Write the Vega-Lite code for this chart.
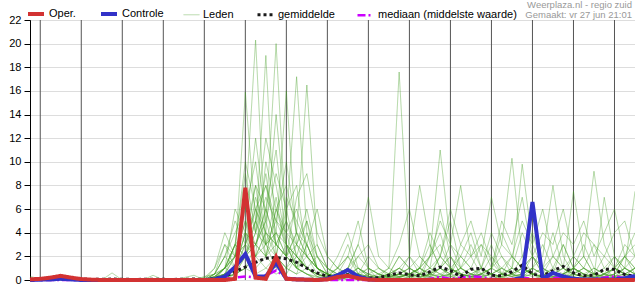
{
"$schema":"https://vega.github.io/schema/vega-lite/v6.json",
"width":605,"height":260,"autosize":"none",
"padding":{"left":30,"top":20,"right":0,"bottom":20},
"background":"white",
"config":{"font":"Liberation Sans","view":{"stroke":"#000","strokeWidth":1},
"axis":{"labelFont":"Liberation Sans","labelFontSize":11,"labelColor":"#000","domainColor":"#000","tickColor":"#000","gridColor":"#dddddd","gridWidth":1,"title":null},
"legend":{"orient":"none","legendX":-4,"legendY":-16,"direction":"horizontal","symbolSize":256,"labelFontSize":11,"labelFont":"Liberation Sans","labelColor":"#000","labelOffset":3,"columnPadding":17,"padding":0,"symbolType":"stroke","labelLimit":300}},
"title":{"text":"Weerplaza.nl - regio zuid","subtitle":"Gemaakt: vr 27 jun 21:01","anchor":"end","frame":"group","fontSize":9.5,"subtitleFontSize":9.5,"fontWeight":"normal","color":"#999999","subtitleColor":"#999999","font":"Liberation Sans","subtitleFont":"Liberation Sans","offset":2,"subtitlePadding":0,"dx":-3,"dy":17},
"datasets":{
"days":[{"t":6},{"t":30},{"t":54},{"t":78},{"t":102},{"t":126},{"t":150},{"t":174},{"t":198},{"t":222},{"t":246},{"t":270},{"t":294},{"t":318},{"t":342}],
"d":[
{"s":"Leden","m":1,"t":96,"v":0},{"s":"Leden","m":1,"t":102,"v":0},{"s":"Leden","m":1,"t":108,"v":0.5},{"s":"Leden","m":1,"t":114,"v":2},{"s":"Leden","m":1,"t":120,"v":4},{"s":"Leden","m":1,"t":126,"v":6},{"s":"Leden","m":1,"t":132,"v":20.3},{"s":"Leden","m":1,"t":138,"v":3},{"s":"Leden","m":1,"t":144,"v":1},{"s":"Leden","m":1,"t":150,"v":0.5},{"s":"Leden","m":1,"t":156,"v":2},{"s":"Leden","m":1,"t":162,"v":1},{"s":"Leden","m":1,"t":168,"v":0.3},{"s":"Leden","m":1,"t":174,"v":0},{"s":"Leden","m":1,"t":180,"v":0.5},{"s":"Leden","m":1,"t":186,"v":1},{"s":"Leden","m":1,"t":192,"v":0.2},{"s":"Leden","m":1,"t":198,"v":0},{"s":"Leden","m":1,"t":204,"v":0},{"s":"Leden","m":1,"t":210,"v":0.5},{"s":"Leden","m":1,"t":216,"v":1},{"s":"Leden","m":1,"t":222,"v":0.3},{"s":"Leden","m":1,"t":228,"v":0},{"s":"Leden","m":1,"t":234,"v":0.5},{"s":"Leden","m":1,"t":240,"v":2},{"s":"Leden","m":1,"t":246,"v":1},{"s":"Leden","m":1,"t":252,"v":0.3},{"s":"Leden","m":1,"t":258,"v":0},{"s":"Leden","m":1,"t":264,"v":1},{"s":"Leden","m":1,"t":270,"v":3},{"s":"Leden","m":1,"t":276,"v":0.5},{"s":"Leden","m":1,"t":282,"v":0},{"s":"Leden","m":1,"t":288,"v":0.2},{"s":"Leden","m":1,"t":294,"v":1},{"s":"Leden","m":1,"t":300,"v":0.5},{"s":"Leden","m":1,"t":306,"v":0},{"s":"Leden","m":1,"t":312,"v":0},{"s":"Leden","m":1,"t":318,"v":1},{"s":"Leden","m":1,"t":324,"v":2},{"s":"Leden","m":1,"t":330,"v":0.5},{"s":"Leden","m":1,"t":336,"v":0},{"s":"Leden","m":1,"t":342,"v":0.3},{"s":"Leden","m":1,"t":348,"v":1},{"s":"Leden","m":1,"t":354,"v":0.5},
{"s":"Leden","m":2,"t":96,"v":0},{"s":"Leden","m":2,"t":102,"v":0.2},{"s":"Leden","m":2,"t":108,"v":1},{"s":"Leden","m":2,"t":114,"v":3},{"s":"Leden","m":2,"t":120,"v":2},{"s":"Leden","m":2,"t":126,"v":15.9},{"s":"Leden","m":2,"t":132,"v":5},{"s":"Leden","m":2,"t":138,"v":2},{"s":"Leden","m":2,"t":144,"v":1},{"s":"Leden","m":2,"t":150,"v":3},{"s":"Leden","m":2,"t":156,"v":1},{"s":"Leden","m":2,"t":162,"v":0.5},{"s":"Leden","m":2,"t":168,"v":0},{"s":"Leden","m":2,"t":174,"v":0},{"s":"Leden","m":2,"t":180,"v":0.2},{"s":"Leden","m":2,"t":186,"v":0.5},{"s":"Leden","m":2,"t":192,"v":1},{"s":"Leden","m":2,"t":198,"v":0.3},{"s":"Leden","m":2,"t":204,"v":0},{"s":"Leden","m":2,"t":210,"v":0},{"s":"Leden","m":2,"t":216,"v":0.5},{"s":"Leden","m":2,"t":222,"v":2},{"s":"Leden","m":2,"t":228,"v":1},{"s":"Leden","m":2,"t":234,"v":0.3},{"s":"Leden","m":2,"t":240,"v":0},{"s":"Leden","m":2,"t":246,"v":0.5},{"s":"Leden","m":2,"t":252,"v":3},{"s":"Leden","m":2,"t":258,"v":2},{"s":"Leden","m":2,"t":264,"v":0.5},{"s":"Leden","m":2,"t":270,"v":0},{"s":"Leden","m":2,"t":276,"v":0.3},{"s":"Leden","m":2,"t":282,"v":1},{"s":"Leden","m":2,"t":288,"v":4},{"s":"Leden","m":2,"t":294,"v":2},{"s":"Leden","m":2,"t":300,"v":0.5},{"s":"Leden","m":2,"t":306,"v":0},{"s":"Leden","m":2,"t":312,"v":0.5},{"s":"Leden","m":2,"t":318,"v":2},{"s":"Leden","m":2,"t":324,"v":1},{"s":"Leden","m":2,"t":330,"v":0.3},{"s":"Leden","m":2,"t":336,"v":0},{"s":"Leden","m":2,"t":342,"v":0.5},{"s":"Leden","m":2,"t":348,"v":2},{"s":"Leden","m":2,"t":354,"v":1},
{"s":"Leden","m":3,"t":96,"v":0},{"s":"Leden","m":3,"t":102,"v":0},{"s":"Leden","m":3,"t":108,"v":0.3},{"s":"Leden","m":3,"t":114,"v":1},{"s":"Leden","m":3,"t":120,"v":3},{"s":"Leden","m":3,"t":126,"v":2},{"s":"Leden","m":3,"t":132,"v":4},{"s":"Leden","m":3,"t":138,"v":19},{"s":"Leden","m":3,"t":144,"v":2},{"s":"Leden","m":3,"t":150,"v":1},{"s":"Leden","m":3,"t":156,"v":0.5},{"s":"Leden","m":3,"t":162,"v":3},{"s":"Leden","m":3,"t":168,"v":1},{"s":"Leden","m":3,"t":174,"v":0.2},{"s":"Leden","m":3,"t":180,"v":0},{"s":"Leden","m":3,"t":186,"v":0.3},{"s":"Leden","m":3,"t":192,"v":0.5},{"s":"Leden","m":3,"t":198,"v":0},{"s":"Leden","m":3,"t":204,"v":0},{"s":"Leden","m":3,"t":210,"v":0.3},{"s":"Leden","m":3,"t":216,"v":1},{"s":"Leden","m":3,"t":222,"v":2},{"s":"Leden","m":3,"t":228,"v":8},{"s":"Leden","m":3,"t":234,"v":3},{"s":"Leden","m":3,"t":240,"v":1},{"s":"Leden","m":3,"t":246,"v":0.5},{"s":"Leden","m":3,"t":252,"v":0},{"s":"Leden","m":3,"t":258,"v":0.3},{"s":"Leden","m":3,"t":264,"v":0.5},{"s":"Leden","m":3,"t":270,"v":1},{"s":"Leden","m":3,"t":276,"v":2},{"s":"Leden","m":3,"t":282,"v":0.5},{"s":"Leden","m":3,"t":288,"v":0},{"s":"Leden","m":3,"t":294,"v":0},{"s":"Leden","m":3,"t":300,"v":0.5},{"s":"Leden","m":3,"t":306,"v":1},{"s":"Leden","m":3,"t":312,"v":3},{"s":"Leden","m":3,"t":318,"v":1},{"s":"Leden","m":3,"t":324,"v":0.2},{"s":"Leden","m":3,"t":330,"v":0},{"s":"Leden","m":3,"t":336,"v":0.3},{"s":"Leden","m":3,"t":342,"v":1},{"s":"Leden","m":3,"t":348,"v":2},{"s":"Leden","m":3,"t":354,"v":4},
{"s":"Leden","m":4,"t":96,"v":0},{"s":"Leden","m":4,"t":102,"v":0},{"s":"Leden","m":4,"t":108,"v":0.2},{"s":"Leden","m":4,"t":114,"v":0.5},{"s":"Leden","m":4,"t":120,"v":1},{"s":"Leden","m":4,"t":126,"v":2},{"s":"Leden","m":4,"t":132,"v":3},{"s":"Leden","m":4,"t":138,"v":5},{"s":"Leden","m":4,"t":144,"v":20},{"s":"Leden","m":4,"t":150,"v":4},{"s":"Leden","m":4,"t":156,"v":1},{"s":"Leden","m":4,"t":162,"v":0.5},{"s":"Leden","m":4,"t":168,"v":0},{"s":"Leden","m":4,"t":174,"v":0.3},{"s":"Leden","m":4,"t":180,"v":1},{"s":"Leden","m":4,"t":186,"v":2},{"s":"Leden","m":4,"t":192,"v":0.5},{"s":"Leden","m":4,"t":198,"v":0},{"s":"Leden","m":4,"t":204,"v":0},{"s":"Leden","m":4,"t":210,"v":0},{"s":"Leden","m":4,"t":216,"v":0.2},{"s":"Leden","m":4,"t":222,"v":0.5},{"s":"Leden","m":4,"t":228,"v":1},{"s":"Leden","m":4,"t":234,"v":2},{"s":"Leden","m":4,"t":240,"v":11},{"s":"Leden","m":4,"t":246,"v":3},{"s":"Leden","m":4,"t":252,"v":1},{"s":"Leden","m":4,"t":258,"v":0.5},{"s":"Leden","m":4,"t":264,"v":0.2},{"s":"Leden","m":4,"t":270,"v":0},{"s":"Leden","m":4,"t":276,"v":0.5},{"s":"Leden","m":4,"t":282,"v":1},{"s":"Leden","m":4,"t":288,"v":0.5},{"s":"Leden","m":4,"t":294,"v":2},{"s":"Leden","m":4,"t":300,"v":1},{"s":"Leden","m":4,"t":306,"v":0.3},{"s":"Leden","m":4,"t":312,"v":0},{"s":"Leden","m":4,"t":318,"v":0.5},{"s":"Leden","m":4,"t":324,"v":1},{"s":"Leden","m":4,"t":330,"v":3},{"s":"Leden","m":4,"t":336,"v":1},{"s":"Leden","m":4,"t":342,"v":0.2},{"s":"Leden","m":4,"t":348,"v":0},{"s":"Leden","m":4,"t":354,"v":0.5},
{"s":"Leden","m":5,"t":96,"v":0},{"s":"Leden","m":5,"t":102,"v":0},{"s":"Leden","m":5,"t":108,"v":0},{"s":"Leden","m":5,"t":114,"v":0.5},{"s":"Leden","m":5,"t":120,"v":2},{"s":"Leden","m":5,"t":126,"v":5},{"s":"Leden","m":5,"t":132,"v":3},{"s":"Leden","m":5,"t":138,"v":2},{"s":"Leden","m":5,"t":144,"v":4},{"s":"Leden","m":5,"t":150,"v":16},{"s":"Leden","m":5,"t":156,"v":3},{"s":"Leden","m":5,"t":162,"v":1},{"s":"Leden","m":5,"t":168,"v":0.5},{"s":"Leden","m":5,"t":174,"v":0},{"s":"Leden","m":5,"t":180,"v":0.3},{"s":"Leden","m":5,"t":186,"v":0.5},{"s":"Leden","m":5,"t":192,"v":0.2},{"s":"Leden","m":5,"t":198,"v":0},{"s":"Leden","m":5,"t":204,"v":0.3},{"s":"Leden","m":5,"t":210,"v":1},{"s":"Leden","m":5,"t":216,"v":17.6},{"s":"Leden","m":5,"t":222,"v":2},{"s":"Leden","m":5,"t":228,"v":0.5},{"s":"Leden","m":5,"t":234,"v":0},{"s":"Leden","m":5,"t":240,"v":0.3},{"s":"Leden","m":5,"t":246,"v":1},{"s":"Leden","m":5,"t":252,"v":2},{"s":"Leden","m":5,"t":258,"v":1},{"s":"Leden","m":5,"t":264,"v":0.3},{"s":"Leden","m":5,"t":270,"v":0},{"s":"Leden","m":5,"t":276,"v":0.5},{"s":"Leden","m":5,"t":282,"v":2},{"s":"Leden","m":5,"t":288,"v":1},{"s":"Leden","m":5,"t":294,"v":0.5},{"s":"Leden","m":5,"t":300,"v":0},{"s":"Leden","m":5,"t":306,"v":0.2},{"s":"Leden","m":5,"t":312,"v":0.5},{"s":"Leden","m":5,"t":318,"v":1},{"s":"Leden","m":5,"t":324,"v":0.5},{"s":"Leden","m":5,"t":330,"v":0},{"s":"Leden","m":5,"t":336,"v":0.2},{"s":"Leden","m":5,"t":342,"v":1},{"s":"Leden","m":5,"t":348,"v":3},{"s":"Leden","m":5,"t":354,"v":2},
{"s":"Leden","m":6,"t":96,"v":0},{"s":"Leden","m":6,"t":102,"v":0},{"s":"Leden","m":6,"t":108,"v":0.3},{"s":"Leden","m":6,"t":114,"v":1},{"s":"Leden","m":6,"t":120,"v":2},{"s":"Leden","m":6,"t":126,"v":3},{"s":"Leden","m":6,"t":132,"v":6},{"s":"Leden","m":6,"t":138,"v":4},{"s":"Leden","m":6,"t":144,"v":3},{"s":"Leden","m":6,"t":150,"v":5},{"s":"Leden","m":6,"t":156,"v":17.2},{"s":"Leden","m":6,"t":162,"v":4},{"s":"Leden","m":6,"t":168,"v":1},{"s":"Leden","m":6,"t":174,"v":0.3},{"s":"Leden","m":6,"t":180,"v":0},{"s":"Leden","m":6,"t":186,"v":0.2},{"s":"Leden","m":6,"t":192,"v":1},{"s":"Leden","m":6,"t":198,"v":0.5},{"s":"Leden","m":6,"t":204,"v":0},{"s":"Leden","m":6,"t":210,"v":0.2},{"s":"Leden","m":6,"t":216,"v":0.5},{"s":"Leden","m":6,"t":222,"v":0.3},{"s":"Leden","m":6,"t":228,"v":1},{"s":"Leden","m":6,"t":234,"v":3},{"s":"Leden","m":6,"t":240,"v":1},{"s":"Leden","m":6,"t":246,"v":0.5},{"s":"Leden","m":6,"t":252,"v":2},{"s":"Leden","m":6,"t":258,"v":4},{"s":"Leden","m":6,"t":264,"v":1},{"s":"Leden","m":6,"t":270,"v":0.5},{"s":"Leden","m":6,"t":276,"v":0.3},{"s":"Leden","m":6,"t":282,"v":0},{"s":"Leden","m":6,"t":288,"v":0.2},{"s":"Leden","m":6,"t":294,"v":0.5},{"s":"Leden","m":6,"t":300,"v":1},{"s":"Leden","m":6,"t":306,"v":2},{"s":"Leden","m":6,"t":312,"v":1},{"s":"Leden","m":6,"t":318,"v":0.3},{"s":"Leden","m":6,"t":324,"v":0},{"s":"Leden","m":6,"t":330,"v":0.5},{"s":"Leden","m":6,"t":336,"v":2},{"s":"Leden","m":6,"t":342,"v":1},{"s":"Leden","m":6,"t":348,"v":0.5},{"s":"Leden","m":6,"t":354,"v":0},
{"s":"Leden","m":7,"t":96,"v":0},{"s":"Leden","m":7,"t":102,"v":0},{"s":"Leden","m":7,"t":108,"v":0.2},{"s":"Leden","m":7,"t":114,"v":0.5},{"s":"Leden","m":7,"t":120,"v":1},{"s":"Leden","m":7,"t":126,"v":4},{"s":"Leden","m":7,"t":132,"v":8},{"s":"Leden","m":7,"t":138,"v":6},{"s":"Leden","m":7,"t":144,"v":3},{"s":"Leden","m":7,"t":150,"v":2},{"s":"Leden","m":7,"t":156,"v":4},{"s":"Leden","m":7,"t":162,"v":16.5},{"s":"Leden","m":7,"t":168,"v":3},{"s":"Leden","m":7,"t":174,"v":1},{"s":"Leden","m":7,"t":180,"v":0.5},{"s":"Leden","m":7,"t":186,"v":0.2},{"s":"Leden","m":7,"t":192,"v":0},{"s":"Leden","m":7,"t":198,"v":0},{"s":"Leden","m":7,"t":204,"v":0.3},{"s":"Leden","m":7,"t":210,"v":0.5},{"s":"Leden","m":7,"t":216,"v":1},{"s":"Leden","m":7,"t":222,"v":0.5},{"s":"Leden","m":7,"t":228,"v":0.2},{"s":"Leden","m":7,"t":234,"v":0.5},{"s":"Leden","m":7,"t":240,"v":1},{"s":"Leden","m":7,"t":246,"v":0.3},{"s":"Leden","m":7,"t":252,"v":0},{"s":"Leden","m":7,"t":258,"v":0.2},{"s":"Leden","m":7,"t":264,"v":0.5},{"s":"Leden","m":7,"t":270,"v":1},{"s":"Leden","m":7,"t":276,"v":3},{"s":"Leden","m":7,"t":282,"v":10.3},{"s":"Leden","m":7,"t":288,"v":2},{"s":"Leden","m":7,"t":294,"v":0.5},{"s":"Leden","m":7,"t":300,"v":0.2},{"s":"Leden","m":7,"t":306,"v":0},{"s":"Leden","m":7,"t":312,"v":0.3},{"s":"Leden","m":7,"t":318,"v":1},{"s":"Leden","m":7,"t":324,"v":0.5},{"s":"Leden","m":7,"t":330,"v":0.2},{"s":"Leden","m":7,"t":336,"v":0},{"s":"Leden","m":7,"t":342,"v":0.3},{"s":"Leden","m":7,"t":348,"v":0.5},{"s":"Leden","m":7,"t":354,"v":1},
{"s":"Leden","m":8,"t":96,"v":0},{"s":"Leden","m":8,"t":102,"v":0},{"s":"Leden","m":8,"t":108,"v":0},{"s":"Leden","m":8,"t":114,"v":0.2},{"s":"Leden","m":8,"t":120,"v":0.5},{"s":"Leden","m":8,"t":126,"v":2},{"s":"Leden","m":8,"t":132,"v":5},{"s":"Leden","m":8,"t":138,"v":12},{"s":"Leden","m":8,"t":144,"v":8},{"s":"Leden","m":8,"t":150,"v":3},{"s":"Leden","m":8,"t":156,"v":2},{"s":"Leden","m":8,"t":162,"v":1},{"s":"Leden","m":8,"t":168,"v":0.5},{"s":"Leden","m":8,"t":174,"v":0.3},{"s":"Leden","m":8,"t":180,"v":1},{"s":"Leden","m":8,"t":186,"v":2},{"s":"Leden","m":8,"t":192,"v":1},{"s":"Leden","m":8,"t":198,"v":0.3},{"s":"Leden","m":8,"t":204,"v":0},{"s":"Leden","m":8,"t":210,"v":0},{"s":"Leden","m":8,"t":216,"v":0.2},{"s":"Leden","m":8,"t":222,"v":0.5},{"s":"Leden","m":8,"t":228,"v":0.3},{"s":"Leden","m":8,"t":234,"v":0.2},{"s":"Leden","m":8,"t":240,"v":1},{"s":"Leden","m":8,"t":246,"v":2},{"s":"Leden","m":8,"t":252,"v":0.5},{"s":"Leden","m":8,"t":258,"v":0.3},{"s":"Leden","m":8,"t":264,"v":0},{"s":"Leden","m":8,"t":270,"v":0.2},{"s":"Leden","m":8,"t":276,"v":0.5},{"s":"Leden","m":8,"t":282,"v":1},{"s":"Leden","m":8,"t":288,"v":9.8},{"s":"Leden","m":8,"t":294,"v":3},{"s":"Leden","m":8,"t":300,"v":1},{"s":"Leden","m":8,"t":306,"v":0.5},{"s":"Leden","m":8,"t":312,"v":0.2},{"s":"Leden","m":8,"t":318,"v":0},{"s":"Leden","m":8,"t":324,"v":0.3},{"s":"Leden","m":8,"t":330,"v":1},{"s":"Leden","m":8,"t":336,"v":0.5},{"s":"Leden","m":8,"t":342,"v":0.2},{"s":"Leden","m":8,"t":348,"v":1},{"s":"Leden","m":8,"t":354,"v":2},
{"s":"Leden","m":9,"t":96,"v":0},{"s":"Leden","m":9,"t":102,"v":0},{"s":"Leden","m":9,"t":108,"v":0.2},{"s":"Leden","m":9,"t":114,"v":1},{"s":"Leden","m":9,"t":120,"v":3},{"s":"Leden","m":9,"t":126,"v":9},{"s":"Leden","m":9,"t":132,"v":4},{"s":"Leden","m":9,"t":138,"v":7},{"s":"Leden","m":9,"t":144,"v":5},{"s":"Leden","m":9,"t":150,"v":3},{"s":"Leden","m":9,"t":156,"v":1},{"s":"Leden","m":9,"t":162,"v":0.5},{"s":"Leden","m":9,"t":168,"v":0.2},{"s":"Leden","m":9,"t":174,"v":0},{"s":"Leden","m":9,"t":180,"v":0.3},{"s":"Leden","m":9,"t":186,"v":0.5},{"s":"Leden","m":9,"t":192,"v":0.2},{"s":"Leden","m":9,"t":198,"v":0},{"s":"Leden","m":9,"t":204,"v":0.2},{"s":"Leden","m":9,"t":210,"v":0.5},{"s":"Leden","m":9,"t":216,"v":0.3},{"s":"Leden","m":9,"t":222,"v":0.2},{"s":"Leden","m":9,"t":228,"v":0.5},{"s":"Leden","m":9,"t":234,"v":1},{"s":"Leden","m":9,"t":240,"v":2},{"s":"Leden","m":9,"t":246,"v":1},{"s":"Leden","m":9,"t":252,"v":0.5},{"s":"Leden","m":9,"t":258,"v":0.3},{"s":"Leden","m":9,"t":264,"v":1},{"s":"Leden","m":9,"t":270,"v":0.5},{"s":"Leden","m":9,"t":276,"v":0.2},{"s":"Leden","m":9,"t":282,"v":0},{"s":"Leden","m":9,"t":288,"v":0.5},{"s":"Leden","m":9,"t":294,"v":1},{"s":"Leden","m":9,"t":300,"v":2},{"s":"Leden","m":9,"t":306,"v":8},{"s":"Leden","m":9,"t":312,"v":2},{"s":"Leden","m":9,"t":318,"v":0.5},{"s":"Leden","m":9,"t":324,"v":0.2},{"s":"Leden","m":9,"t":330,"v":0},{"s":"Leden","m":9,"t":336,"v":0.5},{"s":"Leden","m":9,"t":342,"v":1},{"s":"Leden","m":9,"t":348,"v":0.5},{"s":"Leden","m":9,"t":354,"v":0.3},
{"s":"Leden","m":10,"t":96,"v":0},{"s":"Leden","m":10,"t":102,"v":0},{"s":"Leden","m":10,"t":108,"v":0},{"s":"Leden","m":10,"t":114,"v":0.3},{"s":"Leden","m":10,"t":120,"v":1},{"s":"Leden","m":10,"t":126,"v":3},{"s":"Leden","m":10,"t":132,"v":2},{"s":"Leden","m":10,"t":138,"v":10},{"s":"Leden","m":10,"t":144,"v":6},{"s":"Leden","m":10,"t":150,"v":4},{"s":"Leden","m":10,"t":156,"v":3},{"s":"Leden","m":10,"t":162,"v":2},{"s":"Leden","m":10,"t":168,"v":1},{"s":"Leden","m":10,"t":174,"v":0.5},{"s":"Leden","m":10,"t":180,"v":0.2},{"s":"Leden","m":10,"t":186,"v":0},{"s":"Leden","m":10,"t":192,"v":0.3},{"s":"Leden","m":10,"t":198,"v":1},{"s":"Leden","m":10,"t":204,"v":0.5},{"s":"Leden","m":10,"t":210,"v":0.2},{"s":"Leden","m":10,"t":216,"v":0},{"s":"Leden","m":10,"t":222,"v":0.3},{"s":"Leden","m":10,"t":228,"v":0.5},{"s":"Leden","m":10,"t":234,"v":2},{"s":"Leden","m":10,"t":240,"v":4},{"s":"Leden","m":10,"t":246,"v":1},{"s":"Leden","m":10,"t":252,"v":0.5},{"s":"Leden","m":10,"t":258,"v":0.2},{"s":"Leden","m":10,"t":264,"v":0.5},{"s":"Leden","m":10,"t":270,"v":2},{"s":"Leden","m":10,"t":276,"v":1},{"s":"Leden","m":10,"t":282,"v":0.5},{"s":"Leden","m":10,"t":288,"v":0.2},{"s":"Leden","m":10,"t":294,"v":0},{"s":"Leden","m":10,"t":300,"v":0.3},{"s":"Leden","m":10,"t":306,"v":0.5},{"s":"Leden","m":10,"t":312,"v":1},{"s":"Leden","m":10,"t":318,"v":7.5},{"s":"Leden","m":10,"t":324,"v":2},{"s":"Leden","m":10,"t":330,"v":0.5},{"s":"Leden","m":10,"t":336,"v":0.2},{"s":"Leden","m":10,"t":342,"v":0},{"s":"Leden","m":10,"t":348,"v":0.3},{"s":"Leden","m":10,"t":354,"v":1},
{"s":"Leden","m":11,"t":96,"v":0},{"s":"Leden","m":11,"t":102,"v":0.3},{"s":"Leden","m":11,"t":108,"v":0.5},{"s":"Leden","m":11,"t":114,"v":2},{"s":"Leden","m":11,"t":120,"v":1},{"s":"Leden","m":11,"t":126,"v":4},{"s":"Leden","m":11,"t":132,"v":3},{"s":"Leden","m":11,"t":138,"v":2},{"s":"Leden","m":11,"t":144,"v":6},{"s":"Leden","m":11,"t":150,"v":8},{"s":"Leden","m":11,"t":156,"v":4},{"s":"Leden","m":11,"t":162,"v":2},{"s":"Leden","m":11,"t":168,"v":1},{"s":"Leden","m":11,"t":174,"v":0.5},{"s":"Leden","m":11,"t":180,"v":0.3},{"s":"Leden","m":11,"t":186,"v":0.2},{"s":"Leden","m":11,"t":192,"v":0.5},{"s":"Leden","m":11,"t":198,"v":0.3},{"s":"Leden","m":11,"t":204,"v":0.2},{"s":"Leden","m":11,"t":210,"v":0.5},{"s":"Leden","m":11,"t":216,"v":1},{"s":"Leden","m":11,"t":222,"v":0.5},{"s":"Leden","m":11,"t":228,"v":0.3},{"s":"Leden","m":11,"t":234,"v":0.5},{"s":"Leden","m":11,"t":240,"v":1},{"s":"Leden","m":11,"t":246,"v":3},{"s":"Leden","m":11,"t":252,"v":2},{"s":"Leden","m":11,"t":258,"v":1},{"s":"Leden","m":11,"t":264,"v":0.5},{"s":"Leden","m":11,"t":270,"v":0.3},{"s":"Leden","m":11,"t":276,"v":0.2},{"s":"Leden","m":11,"t":282,"v":0.5},{"s":"Leden","m":11,"t":288,"v":1},{"s":"Leden","m":11,"t":294,"v":0.5},{"s":"Leden","m":11,"t":300,"v":0.3},{"s":"Leden","m":11,"t":306,"v":0.2},{"s":"Leden","m":11,"t":312,"v":0.5},{"s":"Leden","m":11,"t":318,"v":1},{"s":"Leden","m":11,"t":324,"v":2},{"s":"Leden","m":11,"t":330,"v":9.2},{"s":"Leden","m":11,"t":336,"v":3},{"s":"Leden","m":11,"t":342,"v":1},{"s":"Leden","m":11,"t":348,"v":0.5},{"s":"Leden","m":11,"t":354,"v":0.3},
{"s":"Leden","m":12,"t":96,"v":0},{"s":"Leden","m":12,"t":102,"v":0},{"s":"Leden","m":12,"t":108,"v":0.2},{"s":"Leden","m":12,"t":114,"v":0.5},{"s":"Leden","m":12,"t":120,"v":2},{"s":"Leden","m":12,"t":126,"v":6},{"s":"Leden","m":12,"t":132,"v":10},{"s":"Leden","m":12,"t":138,"v":3},{"s":"Leden","m":12,"t":144,"v":4},{"s":"Leden","m":12,"t":150,"v":2},{"s":"Leden","m":12,"t":156,"v":3},{"s":"Leden","m":12,"t":162,"v":5},{"s":"Leden","m":12,"t":168,"v":2},{"s":"Leden","m":12,"t":174,"v":0.5},{"s":"Leden","m":12,"t":180,"v":0.3},{"s":"Leden","m":12,"t":186,"v":0.5},{"s":"Leden","m":12,"t":192,"v":2},{"s":"Leden","m":12,"t":198,"v":1},{"s":"Leden","m":12,"t":204,"v":0.5},{"s":"Leden","m":12,"t":210,"v":0.3},{"s":"Leden","m":12,"t":216,"v":0.2},{"s":"Leden","m":12,"t":222,"v":0.5},{"s":"Leden","m":12,"t":228,"v":1},{"s":"Leden","m":12,"t":234,"v":0.5},{"s":"Leden","m":12,"t":240,"v":0.3},{"s":"Leden","m":12,"t":246,"v":0.5},{"s":"Leden","m":12,"t":252,"v":1},{"s":"Leden","m":12,"t":258,"v":2},{"s":"Leden","m":12,"t":264,"v":4},{"s":"Leden","m":12,"t":270,"v":1.5},{"s":"Leden","m":12,"t":276,"v":0.5},{"s":"Leden","m":12,"t":282,"v":0.3},{"s":"Leden","m":12,"t":288,"v":0.5},{"s":"Leden","m":12,"t":294,"v":1},{"s":"Leden","m":12,"t":300,"v":0.5},{"s":"Leden","m":12,"t":306,"v":0.2},{"s":"Leden","m":12,"t":312,"v":0.5},{"s":"Leden","m":12,"t":318,"v":1},{"s":"Leden","m":12,"t":324,"v":0.5},{"s":"Leden","m":12,"t":330,"v":0.3},{"s":"Leden","m":12,"t":336,"v":7},{"s":"Leden","m":12,"t":342,"v":2},{"s":"Leden","m":12,"t":348,"v":1},{"s":"Leden","m":12,"t":354,"v":0.5},
{"s":"Leden","m":13,"t":96,"v":0},{"s":"Leden","m":13,"t":102,"v":0},{"s":"Leden","m":13,"t":108,"v":0},{"s":"Leden","m":13,"t":114,"v":0.2},{"s":"Leden","m":13,"t":120,"v":0.5},{"s":"Leden","m":13,"t":126,"v":1},{"s":"Leden","m":13,"t":132,"v":3},{"s":"Leden","m":13,"t":138,"v":5},{"s":"Leden","m":13,"t":144,"v":9},{"s":"Leden","m":13,"t":150,"v":6},{"s":"Leden","m":13,"t":156,"v":2},{"s":"Leden","m":13,"t":162,"v":1},{"s":"Leden","m":13,"t":168,"v":0.5},{"s":"Leden","m":13,"t":174,"v":0.2},{"s":"Leden","m":13,"t":180,"v":0},{"s":"Leden","m":13,"t":186,"v":0.2},{"s":"Leden","m":13,"t":192,"v":0.5},{"s":"Leden","m":13,"t":198,"v":1},{"s":"Leden","m":13,"t":204,"v":0.5},{"s":"Leden","m":13,"t":210,"v":0.2},{"s":"Leden","m":13,"t":216,"v":0.5},{"s":"Leden","m":13,"t":222,"v":1},{"s":"Leden","m":13,"t":228,"v":0.5},{"s":"Leden","m":13,"t":234,"v":0.2},{"s":"Leden","m":13,"t":240,"v":0.3},{"s":"Leden","m":13,"t":246,"v":0.5},{"s":"Leden","m":13,"t":252,"v":1},{"s":"Leden","m":13,"t":258,"v":0.5},{"s":"Leden","m":13,"t":264,"v":0.3},{"s":"Leden","m":13,"t":270,"v":1},{"s":"Leden","m":13,"t":276,"v":4},{"s":"Leden","m":13,"t":282,"v":2},{"s":"Leden","m":13,"t":288,"v":1},{"s":"Leden","m":13,"t":294,"v":0.5},{"s":"Leden","m":13,"t":300,"v":0.2},{"s":"Leden","m":13,"t":306,"v":0.3},{"s":"Leden","m":13,"t":312,"v":0.5},{"s":"Leden","m":13,"t":318,"v":1},{"s":"Leden","m":13,"t":324,"v":0.5},{"s":"Leden","m":13,"t":330,"v":0.2},{"s":"Leden","m":13,"t":336,"v":0.5},{"s":"Leden","m":13,"t":342,"v":2},{"s":"Leden","m":13,"t":348,"v":1},{"s":"Leden","m":13,"t":354,"v":7.5},
{"s":"Leden","m":14,"t":96,"v":0},{"s":"Leden","m":14,"t":102,"v":0},{"s":"Leden","m":14,"t":108,"v":0.3},{"s":"Leden","m":14,"t":114,"v":0.5},{"s":"Leden","m":14,"t":120,"v":1},{"s":"Leden","m":14,"t":126,"v":2},{"s":"Leden","m":14,"t":132,"v":4},{"s":"Leden","m":14,"t":138,"v":3},{"s":"Leden","m":14,"t":144,"v":2},{"s":"Leden","m":14,"t":150,"v":7},{"s":"Leden","m":14,"t":156,"v":5},{"s":"Leden","m":14,"t":162,"v":3},{"s":"Leden","m":14,"t":168,"v":1},{"s":"Leden","m":14,"t":174,"v":0.5},{"s":"Leden","m":14,"t":180,"v":0.3},{"s":"Leden","m":14,"t":186,"v":1},{"s":"Leden","m":14,"t":192,"v":3},{"s":"Leden","m":14,"t":198,"v":1},{"s":"Leden","m":14,"t":204,"v":0.5},{"s":"Leden","m":14,"t":210,"v":0.3},{"s":"Leden","m":14,"t":216,"v":0.5},{"s":"Leden","m":14,"t":222,"v":1},{"s":"Leden","m":14,"t":228,"v":2},{"s":"Leden","m":14,"t":234,"v":1},{"s":"Leden","m":14,"t":240,"v":0.5},{"s":"Leden","m":14,"t":246,"v":0.3},{"s":"Leden","m":14,"t":252,"v":0.2},{"s":"Leden","m":14,"t":258,"v":0.5},{"s":"Leden","m":14,"t":264,"v":1},{"s":"Leden","m":14,"t":270,"v":0.5},{"s":"Leden","m":14,"t":276,"v":0.3},{"s":"Leden","m":14,"t":282,"v":0.5},{"s":"Leden","m":14,"t":288,"v":1},{"s":"Leden","m":14,"t":294,"v":2},{"s":"Leden","m":14,"t":300,"v":1},{"s":"Leden","m":14,"t":306,"v":0.5},{"s":"Leden","m":14,"t":312,"v":3},{"s":"Leden","m":14,"t":318,"v":1},{"s":"Leden","m":14,"t":324,"v":0.5},{"s":"Leden","m":14,"t":330,"v":0.3},{"s":"Leden","m":14,"t":336,"v":0.5},{"s":"Leden","m":14,"t":342,"v":1},{"s":"Leden","m":14,"t":348,"v":0.5},{"s":"Leden","m":14,"t":354,"v":0.3},
{"s":"Leden","m":15,"t":96,"v":0},{"s":"Leden","m":15,"t":102,"v":0},{"s":"Leden","m":15,"t":108,"v":0.2},{"s":"Leden","m":15,"t":114,"v":1},{"s":"Leden","m":15,"t":120,"v":2},{"s":"Leden","m":15,"t":126,"v":3},{"s":"Leden","m":15,"t":132,"v":5},{"s":"Leden","m":15,"t":138,"v":8},{"s":"Leden","m":15,"t":144,"v":4},{"s":"Leden","m":15,"t":150,"v":2},{"s":"Leden","m":15,"t":156,"v":1},{"s":"Leden","m":15,"t":162,"v":0.5},{"s":"Leden","m":15,"t":168,"v":0.3},{"s":"Leden","m":15,"t":174,"v":0.5},{"s":"Leden","m":15,"t":180,"v":2},{"s":"Leden","m":15,"t":186,"v":4},{"s":"Leden","m":15,"t":192,"v":1},{"s":"Leden","m":15,"t":198,"v":0.5},{"s":"Leden","m":15,"t":204,"v":0.2},{"s":"Leden","m":15,"t":210,"v":0},{"s":"Leden","m":15,"t":216,"v":0.3},{"s":"Leden","m":15,"t":222,"v":0.5},{"s":"Leden","m":15,"t":228,"v":1},{"s":"Leden","m":15,"t":234,"v":0.5},{"s":"Leden","m":15,"t":240,"v":0.2},{"s":"Leden","m":15,"t":246,"v":0.3},{"s":"Leden","m":15,"t":252,"v":0.5},{"s":"Leden","m":15,"t":258,"v":1},{"s":"Leden","m":15,"t":264,"v":3},{"s":"Leden","m":15,"t":270,"v":2},{"s":"Leden","m":15,"t":276,"v":0.5},{"s":"Leden","m":15,"t":282,"v":0.3},{"s":"Leden","m":15,"t":288,"v":0.5},{"s":"Leden","m":15,"t":294,"v":1},{"s":"Leden","m":15,"t":300,"v":0.5},{"s":"Leden","m":15,"t":306,"v":0.3},{"s":"Leden","m":15,"t":312,"v":0.2},{"s":"Leden","m":15,"t":318,"v":0.5},{"s":"Leden","m":15,"t":324,"v":1},{"s":"Leden","m":15,"t":330,"v":0.5},{"s":"Leden","m":15,"t":336,"v":0.3},{"s":"Leden","m":15,"t":342,"v":0.5},{"s":"Leden","m":15,"t":348,"v":1},{"s":"Leden","m":15,"t":354,"v":0.5},
{"s":"Leden","m":16,"t":96,"v":0},{"s":"Leden","m":16,"t":102,"v":0},{"s":"Leden","m":16,"t":108,"v":0.5},{"s":"Leden","m":16,"t":114,"v":1},{"s":"Leden","m":16,"t":120,"v":0.5},{"s":"Leden","m":16,"t":126,"v":2},{"s":"Leden","m":16,"t":132,"v":3},{"s":"Leden","m":16,"t":138,"v":6},{"s":"Leden","m":16,"t":144,"v":11},{"s":"Leden","m":16,"t":150,"v":3},{"s":"Leden","m":16,"t":156,"v":2},{"s":"Leden","m":16,"t":162,"v":1},{"s":"Leden","m":16,"t":168,"v":0.5},{"s":"Leden","m":16,"t":174,"v":0.2},{"s":"Leden","m":16,"t":180,"v":0.5},{"s":"Leden","m":16,"t":186,"v":1},{"s":"Leden","m":16,"t":192,"v":0.5},{"s":"Leden","m":16,"t":198,"v":0.3},{"s":"Leden","m":16,"t":204,"v":0.2},{"s":"Leden","m":16,"t":210,"v":0.5},{"s":"Leden","m":16,"t":216,"v":2},{"s":"Leden","m":16,"t":222,"v":1},{"s":"Leden","m":16,"t":228,"v":0.5},{"s":"Leden","m":16,"t":234,"v":0.3},{"s":"Leden","m":16,"t":240,"v":1},{"s":"Leden","m":16,"t":246,"v":0.5},{"s":"Leden","m":16,"t":252,"v":0.3},{"s":"Leden","m":16,"t":258,"v":0.5},{"s":"Leden","m":16,"t":264,"v":1},{"s":"Leden","m":16,"t":270,"v":4},{"s":"Leden","m":16,"t":276,"v":2},{"s":"Leden","m":16,"t":282,"v":1},{"s":"Leden","m":16,"t":288,"v":0.5},{"s":"Leden","m":16,"t":294,"v":0.3},{"s":"Leden","m":16,"t":300,"v":0.5},{"s":"Leden","m":16,"t":306,"v":2},{"s":"Leden","m":16,"t":312,"v":1},{"s":"Leden","m":16,"t":318,"v":0.5},{"s":"Leden","m":16,"t":324,"v":0.3},{"s":"Leden","m":16,"t":330,"v":0.2},{"s":"Leden","m":16,"t":336,"v":0.5},{"s":"Leden","m":16,"t":342,"v":1},{"s":"Leden","m":16,"t":348,"v":0.5},{"s":"Leden","m":16,"t":354,"v":0.3},
{"s":"Leden","m":17,"t":96,"v":0},{"s":"Leden","m":17,"t":102,"v":0},{"s":"Leden","m":17,"t":108,"v":0},{"s":"Leden","m":17,"t":114,"v":0.3},{"s":"Leden","m":17,"t":120,"v":1},{"s":"Leden","m":17,"t":126,"v":2},{"s":"Leden","m":17,"t":132,"v":7},{"s":"Leden","m":17,"t":138,"v":4},{"s":"Leden","m":17,"t":144,"v":3},{"s":"Leden","m":17,"t":150,"v":2},{"s":"Leden","m":17,"t":156,"v":1},{"s":"Leden","m":17,"t":162,"v":4},{"s":"Leden","m":17,"t":168,"v":2},{"s":"Leden","m":17,"t":174,"v":0.5},{"s":"Leden","m":17,"t":180,"v":0.3},{"s":"Leden","m":17,"t":186,"v":0.2},{"s":"Leden","m":17,"t":192,"v":0.5},{"s":"Leden","m":17,"t":198,"v":2},{"s":"Leden","m":17,"t":204,"v":1},{"s":"Leden","m":17,"t":210,"v":0.3},{"s":"Leden","m":17,"t":216,"v":0.5},{"s":"Leden","m":17,"t":222,"v":1},{"s":"Leden","m":17,"t":228,"v":0.5},{"s":"Leden","m":17,"t":234,"v":0.3},{"s":"Leden","m":17,"t":240,"v":2},{"s":"Leden","m":17,"t":246,"v":5},{"s":"Leden","m":17,"t":252,"v":1},{"s":"Leden","m":17,"t":258,"v":0.5},{"s":"Leden","m":17,"t":264,"v":0.3},{"s":"Leden","m":17,"t":270,"v":0.5},{"s":"Leden","m":17,"t":276,"v":1},{"s":"Leden","m":17,"t":282,"v":0.5},{"s":"Leden","m":17,"t":288,"v":2},{"s":"Leden","m":17,"t":294,"v":4},{"s":"Leden","m":17,"t":300,"v":1},{"s":"Leden","m":17,"t":306,"v":0.5},{"s":"Leden","m":17,"t":312,"v":0.3},{"s":"Leden","m":17,"t":318,"v":0.5},{"s":"Leden","m":17,"t":324,"v":1},{"s":"Leden","m":17,"t":330,"v":0.5},{"s":"Leden","m":17,"t":336,"v":0.3},{"s":"Leden","m":17,"t":342,"v":0.5},{"s":"Leden","m":17,"t":348,"v":2},{"s":"Leden","m":17,"t":354,"v":1},
{"s":"Leden","m":18,"t":96,"v":0},{"s":"Leden","m":18,"t":102,"v":0.2},{"s":"Leden","m":18,"t":108,"v":0.5},{"s":"Leden","m":18,"t":114,"v":1},{"s":"Leden","m":18,"t":120,"v":3},{"s":"Leden","m":18,"t":126,"v":4},{"s":"Leden","m":18,"t":132,"v":2},{"s":"Leden","m":18,"t":138,"v":3},{"s":"Leden","m":18,"t":144,"v":5},{"s":"Leden","m":18,"t":150,"v":4},{"s":"Leden","m":18,"t":156,"v":6},{"s":"Leden","m":18,"t":162,"v":3},{"s":"Leden","m":18,"t":168,"v":1},{"s":"Leden","m":18,"t":174,"v":0.5},{"s":"Leden","m":18,"t":180,"v":0.3},{"s":"Leden","m":18,"t":186,"v":0.5},{"s":"Leden","m":18,"t":192,"v":1},{"s":"Leden","m":18,"t":198,"v":0.5},{"s":"Leden","m":18,"t":204,"v":0.3},{"s":"Leden","m":18,"t":210,"v":0.2},{"s":"Leden","m":18,"t":216,"v":0.3},{"s":"Leden","m":18,"t":222,"v":0.5},{"s":"Leden","m":18,"t":228,"v":1},{"s":"Leden","m":18,"t":234,"v":2},{"s":"Leden","m":18,"t":240,"v":3},{"s":"Leden","m":18,"t":246,"v":1},{"s":"Leden","m":18,"t":252,"v":0.5},{"s":"Leden","m":18,"t":258,"v":0.3},{"s":"Leden","m":18,"t":264,"v":0.5},{"s":"Leden","m":18,"t":270,"v":1},{"s":"Leden","m":18,"t":276,"v":0.5},{"s":"Leden","m":18,"t":282,"v":0.3},{"s":"Leden","m":18,"t":288,"v":1},{"s":"Leden","m":18,"t":294,"v":2},{"s":"Leden","m":18,"t":300,"v":0.5},{"s":"Leden","m":18,"t":306,"v":0.3},{"s":"Leden","m":18,"t":312,"v":0.5},{"s":"Leden","m":18,"t":318,"v":1},{"s":"Leden","m":18,"t":324,"v":3},{"s":"Leden","m":18,"t":330,"v":1},{"s":"Leden","m":18,"t":336,"v":0.5},{"s":"Leden","m":18,"t":342,"v":0.3},{"s":"Leden","m":18,"t":348,"v":0.5},{"s":"Leden","m":18,"t":354,"v":1},
{"s":"Leden","m":19,"t":96,"v":0},{"s":"Leden","m":19,"t":102,"v":0},{"s":"Leden","m":19,"t":108,"v":0.2},{"s":"Leden","m":19,"t":114,"v":0.5},{"s":"Leden","m":19,"t":120,"v":1},{"s":"Leden","m":19,"t":126,"v":2},{"s":"Leden","m":19,"t":132,"v":1},{"s":"Leden","m":19,"t":138,"v":2},{"s":"Leden","m":19,"t":144,"v":3},{"s":"Leden","m":19,"t":150,"v":2},{"s":"Leden","m":19,"t":156,"v":1},{"s":"Leden","m":19,"t":162,"v":3},{"s":"Leden","m":19,"t":168,"v":6},{"s":"Leden","m":19,"t":174,"v":2},{"s":"Leden","m":19,"t":180,"v":1},{"s":"Leden","m":19,"t":186,"v":0.5},{"s":"Leden","m":19,"t":192,"v":0.3},{"s":"Leden","m":19,"t":198,"v":0.2},{"s":"Leden","m":19,"t":204,"v":0.5},{"s":"Leden","m":19,"t":210,"v":1},{"s":"Leden","m":19,"t":216,"v":0.5},{"s":"Leden","m":19,"t":222,"v":0.3},{"s":"Leden","m":19,"t":228,"v":0.2},{"s":"Leden","m":19,"t":234,"v":0.5},{"s":"Leden","m":19,"t":240,"v":1},{"s":"Leden","m":19,"t":246,"v":2},{"s":"Leden","m":19,"t":252,"v":1},{"s":"Leden","m":19,"t":258,"v":0.5},{"s":"Leden","m":19,"t":264,"v":0.3},{"s":"Leden","m":19,"t":270,"v":0.5},{"s":"Leden","m":19,"t":276,"v":1},{"s":"Leden","m":19,"t":282,"v":2},{"s":"Leden","m":19,"t":288,"v":1},{"s":"Leden","m":19,"t":294,"v":0.5},{"s":"Leden","m":19,"t":300,"v":0.3},{"s":"Leden","m":19,"t":306,"v":0.5},{"s":"Leden","m":19,"t":312,"v":1},{"s":"Leden","m":19,"t":318,"v":0.5},{"s":"Leden","m":19,"t":324,"v":0.3},{"s":"Leden","m":19,"t":330,"v":0.2},{"s":"Leden","m":19,"t":336,"v":0.5},{"s":"Leden","m":19,"t":342,"v":1},{"s":"Leden","m":19,"t":348,"v":2},{"s":"Leden","m":19,"t":354,"v":0.5},
{"s":"Leden","m":20,"t":96,"v":0},{"s":"Leden","m":20,"t":114,"v":0},{"s":"Leden","m":20,"t":120,"v":0.5},{"s":"Leden","m":20,"t":126,"v":1},{"s":"Leden","m":20,"t":132,"v":2},{"s":"Leden","m":20,"t":138,"v":4},{"s":"Leden","m":20,"t":144,"v":2},{"s":"Leden","m":20,"t":150,"v":1},{"s":"Leden","m":20,"t":156,"v":3},{"s":"Leden","m":20,"t":162,"v":2},{"s":"Leden","m":20,"t":168,"v":1},{"s":"Leden","m":20,"t":174,"v":0.5},{"s":"Leden","m":20,"t":180,"v":0.2},{"s":"Leden","m":20,"t":186,"v":0.3},{"s":"Leden","m":20,"t":192,"v":0.5},{"s":"Leden","m":20,"t":198,"v":0.3},{"s":"Leden","m":20,"t":204,"v":0.2},{"s":"Leden","m":20,"t":210,"v":0.3},{"s":"Leden","m":20,"t":216,"v":0.5},{"s":"Leden","m":20,"t":222,"v":0.3},{"s":"Leden","m":20,"t":228,"v":0.5},{"s":"Leden","m":20,"t":234,"v":1},{"s":"Leden","m":20,"t":240,"v":6},{"s":"Leden","m":20,"t":246,"v":2},{"s":"Leden","m":20,"t":252,"v":0.5},{"s":"Leden","m":20,"t":258,"v":0.3},{"s":"Leden","m":20,"t":264,"v":0.2},{"s":"Leden","m":20,"t":270,"v":0.5},{"s":"Leden","m":20,"t":276,"v":1},{"s":"Leden","m":20,"t":282,"v":0.5},{"s":"Leden","m":20,"t":288,"v":0.3},{"s":"Leden","m":20,"t":294,"v":0.5},{"s":"Leden","m":20,"t":300,"v":1},{"s":"Leden","m":20,"t":306,"v":4},{"s":"Leden","m":20,"t":312,"v":1},{"s":"Leden","m":20,"t":318,"v":0.5},{"s":"Leden","m":20,"t":324,"v":0.3},{"s":"Leden","m":20,"t":330,"v":0.5},{"s":"Leden","m":20,"t":336,"v":1},{"s":"Leden","m":20,"t":342,"v":2},{"s":"Leden","m":20,"t":348,"v":0.5},{"s":"Leden","m":20,"t":354,"v":0.3},
{"s":"Leden","m":21,"t":30,"v":0},{"s":"Leden","m":21,"t":42,"v":0},{"s":"Leden","m":21,"t":48,"v":0.6},{"s":"Leden","m":21,"t":54,"v":0},{"s":"Leden","m":21,"t":66,"v":0},{"s":"Leden","m":21,"t":72,"v":0.4},{"s":"Leden","m":21,"t":78,"v":0},{"s":"Leden","m":21,"t":102,"v":0},{"s":"Leden","m":21,"t":108,"v":0.2},{"s":"Leden","m":21,"t":114,"v":0.3},{"s":"Leden","m":21,"t":120,"v":0.5},{"s":"Leden","m":21,"t":126,"v":1},{"s":"Leden","m":21,"t":132,"v":2},{"s":"Leden","m":21,"t":138,"v":1},{"s":"Leden","m":21,"t":144,"v":0.5},{"s":"Leden","m":21,"t":150,"v":1},{"s":"Leden","m":21,"t":156,"v":2},{"s":"Leden","m":21,"t":162,"v":1},{"s":"Leden","m":21,"t":168,"v":0.5},{"s":"Leden","m":21,"t":174,"v":0.3},{"s":"Leden","m":21,"t":180,"v":0.5},{"s":"Leden","m":21,"t":186,"v":1},{"s":"Leden","m":21,"t":192,"v":2},{"s":"Leden","m":21,"t":198,"v":3},{"s":"Leden","m":21,"t":204,"v":1},{"s":"Leden","m":21,"t":210,"v":0.5},{"s":"Leden","m":21,"t":216,"v":0.3},{"s":"Leden","m":21,"t":222,"v":0.5},{"s":"Leden","m":21,"t":228,"v":1},{"s":"Leden","m":21,"t":234,"v":0.5},{"s":"Leden","m":21,"t":240,"v":0.3},{"s":"Leden","m":21,"t":246,"v":0.5},{"s":"Leden","m":21,"t":252,"v":1},{"s":"Leden","m":21,"t":258,"v":3},{"s":"Leden","m":21,"t":264,"v":1},{"s":"Leden","m":21,"t":270,"v":0.5},{"s":"Leden","m":21,"t":276,"v":0.3},{"s":"Leden","m":21,"t":282,"v":0.5},{"s":"Leden","m":21,"t":288,"v":1},{"s":"Leden","m":21,"t":294,"v":0.5},{"s":"Leden","m":21,"t":300,"v":0.3},{"s":"Leden","m":21,"t":306,"v":0.5},{"s":"Leden","m":21,"t":312,"v":1},{"s":"Leden","m":21,"t":318,"v":2},{"s":"Leden","m":21,"t":324,"v":1},{"s":"Leden","m":21,"t":330,"v":0.5},{"s":"Leden","m":21,"t":336,"v":0.3},{"s":"Leden","m":21,"t":342,"v":0.5},{"s":"Leden","m":21,"t":348,"v":1},{"s":"Leden","m":21,"t":354,"v":0.5},
{"s":"Leden","m":22,"t":0,"v":0.3},{"s":"Leden","m":22,"t":6,"v":0.1},{"s":"Leden","m":22,"t":12,"v":0.2},{"s":"Leden","m":22,"t":18,"v":0.3},{"s":"Leden","m":22,"t":24,"v":0.1},{"s":"Leden","m":22,"t":30,"v":0},{"s":"Leden","m":22,"t":84,"v":0},{"s":"Leden","m":22,"t":90,"v":0.2},{"s":"Leden","m":22,"t":96,"v":0.4},{"s":"Leden","m":22,"t":102,"v":0},{"s":"Leden","m":22,"t":108,"v":0},{"s":"Leden","m":22,"t":114,"v":0.2},{"s":"Leden","m":22,"t":120,"v":0.5},{"s":"Leden","m":22,"t":126,"v":1},{"s":"Leden","m":22,"t":132,"v":0.5},{"s":"Leden","m":22,"t":138,"v":1},{"s":"Leden","m":22,"t":144,"v":2},{"s":"Leden","m":22,"t":150,"v":1},{"s":"Leden","m":22,"t":156,"v":0.5},{"s":"Leden","m":22,"t":162,"v":1},{"s":"Leden","m":22,"t":168,"v":2},{"s":"Leden","m":22,"t":174,"v":1},{"s":"Leden","m":22,"t":180,"v":0.5},{"s":"Leden","m":22,"t":186,"v":0.3},{"s":"Leden","m":22,"t":192,"v":0.2},{"s":"Leden","m":22,"t":198,"v":0.5},{"s":"Leden","m":22,"t":204,"v":1},{"s":"Leden","m":22,"t":210,"v":0.5},{"s":"Leden","m":22,"t":216,"v":2},{"s":"Leden","m":22,"t":222,"v":1},{"s":"Leden","m":22,"t":228,"v":0.5},{"s":"Leden","m":22,"t":234,"v":0.3},{"s":"Leden","m":22,"t":240,"v":0.5},{"s":"Leden","m":22,"t":246,"v":1},{"s":"Leden","m":22,"t":252,"v":0.5},{"s":"Leden","m":22,"t":258,"v":0.3},{"s":"Leden","m":22,"t":264,"v":0.5},{"s":"Leden","m":22,"t":270,"v":1},{"s":"Leden","m":22,"t":276,"v":0.5},{"s":"Leden","m":22,"t":282,"v":0.3},{"s":"Leden","m":22,"t":288,"v":0.5},{"s":"Leden","m":22,"t":294,"v":1},{"s":"Leden","m":22,"t":300,"v":3},{"s":"Leden","m":22,"t":306,"v":1},{"s":"Leden","m":22,"t":312,"v":0.5},{"s":"Leden","m":22,"t":318,"v":0.3},{"s":"Leden","m":22,"t":324,"v":0.5},{"s":"Leden","m":22,"t":330,"v":1},{"s":"Leden","m":22,"t":336,"v":0.5},{"s":"Leden","m":22,"t":342,"v":0.3},{"s":"Leden","m":22,"t":348,"v":0.5},{"s":"Leden","m":22,"t":354,"v":1},
{"s":"Leden","m":23,"t":102,"v":0},{"s":"Leden","m":23,"t":108,"v":0.5},{"s":"Leden","m":23,"t":114,"v":2},{"s":"Leden","m":23,"t":120,"v":5},{"s":"Leden","m":23,"t":126,"v":3},{"s":"Leden","m":23,"t":132,"v":8},{"s":"Leden","m":23,"t":138,"v":2},{"s":"Leden","m":23,"t":144,"v":6},{"s":"Leden","m":23,"t":150,"v":3},{"s":"Leden","m":23,"t":156,"v":1},{"s":"Leden","m":23,"t":162,"v":2},{"s":"Leden","m":23,"t":168,"v":0.5},{"s":"Leden","m":23,"t":174,"v":0.2},{"s":"Leden","m":23,"t":180,"v":0},
{"s":"Leden","m":24,"t":102,"v":0},{"s":"Leden","m":24,"t":108,"v":1},{"s":"Leden","m":24,"t":114,"v":4},{"s":"Leden","m":24,"t":120,"v":2},{"s":"Leden","m":24,"t":126,"v":7},{"s":"Leden","m":24,"t":132,"v":4},{"s":"Leden","m":24,"t":138,"v":9},{"s":"Leden","m":24,"t":144,"v":3},{"s":"Leden","m":24,"t":150,"v":5},{"s":"Leden","m":24,"t":156,"v":2},{"s":"Leden","m":24,"t":162,"v":1},{"s":"Leden","m":24,"t":168,"v":0.3},{"s":"Leden","m":24,"t":174,"v":0},
{"s":"Leden","m":25,"t":108,"v":0},{"s":"Leden","m":25,"t":114,"v":0.5},{"s":"Leden","m":25,"t":120,"v":3},{"s":"Leden","m":25,"t":126,"v":10},{"s":"Leden","m":25,"t":132,"v":6},{"s":"Leden","m":25,"t":138,"v":3},{"s":"Leden","m":25,"t":144,"v":7},{"s":"Leden","m":25,"t":150,"v":2},{"s":"Leden","m":25,"t":156,"v":4},{"s":"Leden","m":25,"t":162,"v":3},{"s":"Leden","m":25,"t":168,"v":1},{"s":"Leden","m":25,"t":174,"v":0.5},{"s":"Leden","m":25,"t":180,"v":1},{"s":"Leden","m":25,"t":186,"v":3},{"s":"Leden","m":25,"t":192,"v":0.5},{"s":"Leden","m":25,"t":198,"v":0},
{"s":"Leden","m":26,"t":102,"v":0},{"s":"Leden","m":26,"t":108,"v":0.3},{"s":"Leden","m":26,"t":114,"v":1},{"s":"Leden","m":26,"t":120,"v":6},{"s":"Leden","m":26,"t":126,"v":4},{"s":"Leden","m":26,"t":132,"v":12},{"s":"Leden","m":26,"t":138,"v":5},{"s":"Leden","m":26,"t":144,"v":2},{"s":"Leden","m":26,"t":150,"v":6},{"s":"Leden","m":26,"t":156,"v":8},{"s":"Leden","m":26,"t":162,"v":2},{"s":"Leden","m":26,"t":168,"v":1},{"s":"Leden","m":26,"t":174,"v":0},
{"s":"Leden","m":27,"t":108,"v":0},{"s":"Leden","m":27,"t":114,"v":1},{"s":"Leden","m":27,"t":120,"v":2},{"s":"Leden","m":27,"t":126,"v":5},{"s":"Leden","m":27,"t":132,"v":2},{"s":"Leden","m":27,"t":138,"v":4},{"s":"Leden","m":27,"t":144,"v":14},{"s":"Leden","m":27,"t":150,"v":5},{"s":"Leden","m":27,"t":156,"v":3},{"s":"Leden","m":27,"t":162,"v":6},{"s":"Leden","m":27,"t":168,"v":2},{"s":"Leden","m":27,"t":174,"v":1},{"s":"Leden","m":27,"t":180,"v":0.3},{"s":"Leden","m":27,"t":186,"v":0},
{"s":"Leden","m":28,"t":102,"v":0},{"s":"Leden","m":28,"t":108,"v":0.5},{"s":"Leden","m":28,"t":114,"v":3},{"s":"Leden","m":28,"t":120,"v":1},{"s":"Leden","m":28,"t":126,"v":3},{"s":"Leden","m":28,"t":132,"v":6},{"s":"Leden","m":28,"t":138,"v":8},{"s":"Leden","m":28,"t":144,"v":5},{"s":"Leden","m":28,"t":150,"v":10},{"s":"Leden","m":28,"t":156,"v":4},{"s":"Leden","m":28,"t":162,"v":2},{"s":"Leden","m":28,"t":168,"v":3},{"s":"Leden","m":28,"t":174,"v":1},{"s":"Leden","m":28,"t":180,"v":0.5},{"s":"Leden","m":28,"t":186,"v":2},{"s":"Leden","m":28,"t":192,"v":5},{"s":"Leden","m":28,"t":198,"v":1},{"s":"Leden","m":28,"t":204,"v":0},
{"s":"Leden","m":29,"t":114,"v":0},{"s":"Leden","m":29,"t":120,"v":1},{"s":"Leden","m":29,"t":126,"v":4},{"s":"Leden","m":29,"t":132,"v":3},{"s":"Leden","m":29,"t":138,"v":6},{"s":"Leden","m":29,"t":144,"v":3},{"s":"Leden","m":29,"t":150,"v":2},{"s":"Leden","m":29,"t":156,"v":7},{"s":"Leden","m":29,"t":162,"v":9},{"s":"Leden","m":29,"t":168,"v":4},{"s":"Leden","m":29,"t":174,"v":2},{"s":"Leden","m":29,"t":180,"v":1},{"s":"Leden","m":29,"t":186,"v":0.5},{"s":"Leden","m":29,"t":192,"v":0},
{"s":"Leden","m":30,"t":102,"v":0},{"s":"Leden","m":30,"t":108,"v":0.2},{"s":"Leden","m":30,"t":114,"v":1},{"s":"Leden","m":30,"t":120,"v":3},{"s":"Leden","m":30,"t":126,"v":2},{"s":"Leden","m":30,"t":132,"v":5},{"s":"Leden","m":30,"t":138,"v":3},{"s":"Leden","m":30,"t":144,"v":4},{"s":"Leden","m":30,"t":150,"v":3},{"s":"Leden","m":30,"t":156,"v":2},{"s":"Leden","m":30,"t":162,"v":5},{"s":"Leden","m":30,"t":168,"v":1},{"s":"Leden","m":30,"t":174,"v":0.5},{"s":"Leden","m":30,"t":180,"v":0.2},{"s":"Leden","m":30,"t":186,"v":1},{"s":"Leden","m":30,"t":192,"v":3},{"s":"Leden","m":30,"t":198,"v":7},{"s":"Leden","m":30,"t":204,"v":2},{"s":"Leden","m":30,"t":210,"v":1},{"s":"Leden","m":30,"t":216,"v":3},{"s":"Leden","m":30,"t":222,"v":6},{"s":"Leden","m":30,"t":228,"v":2},{"s":"Leden","m":30,"t":234,"v":1},{"s":"Leden","m":30,"t":240,"v":0.5},{"s":"Leden","m":30,"t":246,"v":0},
{"s":"Leden","m":31,"t":222,"v":0},{"s":"Leden","m":31,"t":228,"v":1},{"s":"Leden","m":31,"t":234,"v":4},{"s":"Leden","m":31,"t":240,"v":2},{"s":"Leden","m":31,"t":246,"v":6},{"s":"Leden","m":31,"t":252,"v":3},{"s":"Leden","m":31,"t":258,"v":5},{"s":"Leden","m":31,"t":264,"v":2},{"s":"Leden","m":31,"t":270,"v":7},{"s":"Leden","m":31,"t":276,"v":3},{"s":"Leden","m":31,"t":282,"v":2},{"s":"Leden","m":31,"t":288,"v":5},{"s":"Leden","m":31,"t":294,"v":3},{"s":"Leden","m":31,"t":300,"v":6},{"s":"Leden","m":31,"t":306,"v":2},{"s":"Leden","m":31,"t":312,"v":4},{"s":"Leden","m":31,"t":318,"v":3},{"s":"Leden","m":31,"t":324,"v":5},{"s":"Leden","m":31,"t":330,"v":2},{"s":"Leden","m":31,"t":336,"v":4},{"s":"Leden","m":31,"t":342,"v":6},{"s":"Leden","m":31,"t":348,"v":2},{"s":"Leden","m":31,"t":354,"v":3},
{"s":"Leden","m":32,"t":228,"v":0},{"s":"Leden","m":32,"t":234,"v":2},{"s":"Leden","m":32,"t":240,"v":5},{"s":"Leden","m":32,"t":246,"v":3},{"s":"Leden","m":32,"t":252,"v":8},{"s":"Leden","m":32,"t":258,"v":2},{"s":"Leden","m":32,"t":264,"v":3},{"s":"Leden","m":32,"t":270,"v":1},{"s":"Leden","m":32,"t":276,"v":5},{"s":"Leden","m":32,"t":282,"v":3},{"s":"Leden","m":32,"t":288,"v":7},{"s":"Leden","m":32,"t":294,"v":2},{"s":"Leden","m":32,"t":300,"v":4},{"s":"Leden","m":32,"t":306,"v":3},{"s":"Leden","m":32,"t":312,"v":6},{"s":"Leden","m":32,"t":318,"v":2},{"s":"Leden","m":32,"t":324,"v":4},{"s":"Leden","m":32,"t":330,"v":3},{"s":"Leden","m":32,"t":336,"v":2},{"s":"Leden","m":32,"t":342,"v":4},{"s":"Leden","m":32,"t":348,"v":5},{"s":"Leden","m":32,"t":354,"v":2},
{"s":"mediaan (middelste waarde)","t":0,"v":0},{"s":"mediaan (middelste waarde)","t":102,"v":0},{"s":"mediaan (middelste waarde)","t":108,"v":0.05},{"s":"mediaan (middelste waarde)","t":114,"v":0.1},{"s":"mediaan (middelste waarde)","t":120,"v":0.2},{"s":"mediaan (middelste waarde)","t":126,"v":0.3},{"s":"mediaan (middelste waarde)","t":132,"v":0.2},{"s":"mediaan (middelste waarde)","t":138,"v":0.4},{"s":"mediaan (middelste waarde)","t":144,"v":0.8},{"s":"mediaan (middelste waarde)","t":150,"v":0.2},{"s":"mediaan (middelste waarde)","t":156,"v":0.1},{"s":"mediaan (middelste waarde)","t":162,"v":0.05},{"s":"mediaan (middelste waarde)","t":168,"v":0},{"s":"mediaan (middelste waarde)","t":228,"v":0},{"s":"mediaan (middelste waarde)","t":234,"v":0.1},{"s":"mediaan (middelste waarde)","t":240,"v":0.25},{"s":"mediaan (middelste waarde)","t":246,"v":0.1},{"s":"mediaan (middelste waarde)","t":252,"v":0.2},{"s":"mediaan (middelste waarde)","t":258,"v":0.3},{"s":"mediaan (middelste waarde)","t":264,"v":0.25},{"s":"mediaan (middelste waarde)","t":270,"v":0.1},{"s":"mediaan (middelste waarde)","t":276,"v":0.05},{"s":"mediaan (middelste waarde)","t":282,"v":0.1},{"s":"mediaan (middelste waarde)","t":288,"v":0.2},{"s":"mediaan (middelste waarde)","t":294,"v":0.1},{"s":"mediaan (middelste waarde)","t":300,"v":0.05},{"s":"mediaan (middelste waarde)","t":306,"v":0.15},{"s":"mediaan (middelste waarde)","t":312,"v":0.25},{"s":"mediaan (middelste waarde)","t":318,"v":0.1},{"s":"mediaan (middelste waarde)","t":324,"v":0.05},{"s":"mediaan (middelste waarde)","t":330,"v":0.1},{"s":"mediaan (middelste waarde)","t":336,"v":0.2},{"s":"mediaan (middelste waarde)","t":342,"v":0.3},{"s":"mediaan (middelste waarde)","t":348,"v":0.15},{"s":"mediaan (middelste waarde)","t":354,"v":0.1},
{"s":"gemiddelde","t":0,"v":0.05},{"s":"gemiddelde","t":18,"v":0.1},{"s":"gemiddelde","t":36,"v":0.05},{"s":"gemiddelde","t":48,"v":0.08},{"s":"gemiddelde","t":60,"v":0.05},{"s":"gemiddelde","t":72,"v":0.06},{"s":"gemiddelde","t":84,"v":0.05},{"s":"gemiddelde","t":96,"v":0.08},{"s":"gemiddelde","t":102,"v":0.05},{"s":"gemiddelde","t":108,"v":0.1},{"s":"gemiddelde","t":114,"v":0.3},{"s":"gemiddelde","t":120,"v":0.7},{"s":"gemiddelde","t":126,"v":1.1},{"s":"gemiddelde","t":132,"v":1.5},{"s":"gemiddelde","t":138,"v":1.85},{"s":"gemiddelde","t":144,"v":1.9},{"s":"gemiddelde","t":150,"v":1.8},{"s":"gemiddelde","t":156,"v":1.5},{"s":"gemiddelde","t":162,"v":1.0},{"s":"gemiddelde","t":168,"v":0.6},{"s":"gemiddelde","t":174,"v":0.3},{"s":"gemiddelde","t":180,"v":0.35},{"s":"gemiddelde","t":186,"v":0.45},{"s":"gemiddelde","t":192,"v":0.2},{"s":"gemiddelde","t":198,"v":0.15},{"s":"gemiddelde","t":204,"v":0.2},{"s":"gemiddelde","t":210,"v":0.4},{"s":"gemiddelde","t":216,"v":0.6},{"s":"gemiddelde","t":222,"v":0.45},{"s":"gemiddelde","t":228,"v":0.35},{"s":"gemiddelde","t":234,"v":0.7},{"s":"gemiddelde","t":240,"v":1.1},{"s":"gemiddelde","t":246,"v":0.8},{"s":"gemiddelde","t":252,"v":0.3},{"s":"gemiddelde","t":258,"v":0.9},{"s":"gemiddelde","t":264,"v":1.0},{"s":"gemiddelde","t":270,"v":0.4},{"s":"gemiddelde","t":276,"v":0.35},{"s":"gemiddelde","t":282,"v":0.7},{"s":"gemiddelde","t":288,"v":1.25},{"s":"gemiddelde","t":294,"v":0.5},{"s":"gemiddelde","t":300,"v":0.35},{"s":"gemiddelde","t":306,"v":0.8},{"s":"gemiddelde","t":312,"v":1.15},{"s":"gemiddelde","t":318,"v":0.6},{"s":"gemiddelde","t":324,"v":0.35},{"s":"gemiddelde","t":330,"v":0.4},{"s":"gemiddelde","t":336,"v":0.9},{"s":"gemiddelde","t":342,"v":0.9},{"s":"gemiddelde","t":348,"v":0.45},{"s":"gemiddelde","t":354,"v":0.3},
{"s":"Controle","t":0,"v":0},{"s":"Controle","t":12,"v":0.05},{"s":"Controle","t":18,"v":0.1},{"s":"Controle","t":24,"v":0.05},{"s":"Controle","t":30,"v":0},{"s":"Controle","t":102,"v":0},{"s":"Controle","t":108,"v":0.05},{"s":"Controle","t":114,"v":0.3},{"s":"Controle","t":120,"v":1.1},{"s":"Controle","t":126,"v":2.2},{"s":"Controle","t":132,"v":0.3},{"s":"Controle","t":138,"v":0.3},{"s":"Controle","t":144,"v":1.45},{"s":"Controle","t":150,"v":0.1},{"s":"Controle","t":156,"v":0.05},{"s":"Controle","t":168,"v":0},{"s":"Controle","t":174,"v":0.1},{"s":"Controle","t":180,"v":0.4},{"s":"Controle","t":186,"v":0.85},{"s":"Controle","t":192,"v":0.3},{"s":"Controle","t":198,"v":0.05},{"s":"Controle","t":204,"v":0},{"s":"Controle","t":282,"v":0},{"s":"Controle","t":288,"v":0.2},{"s":"Controle","t":294,"v":6.6},{"s":"Controle","t":300,"v":0.1},{"s":"Controle","t":306,"v":0.6},{"s":"Controle","t":312,"v":0.3},{"s":"Controle","t":318,"v":0.1},{"s":"Controle","t":324,"v":0.05},{"s":"Controle","t":342,"v":0.05},{"s":"Controle","t":348,"v":0.15},{"s":"Controle","t":354,"v":0.35},
{"s":"Oper.","t":0,"v":0.05},{"s":"Oper.","t":6,"v":0.1},{"s":"Oper.","t":12,"v":0.2},{"s":"Oper.","t":18,"v":0.35},{"s":"Oper.","t":24,"v":0.2},{"s":"Oper.","t":30,"v":0.08},{"s":"Oper.","t":36,"v":0.03},{"s":"Oper.","t":42,"v":0},{"s":"Oper.","t":114,"v":0},{"s":"Oper.","t":120,"v":0.1},{"s":"Oper.","t":126,"v":7.8},{"s":"Oper.","t":132,"v":0.2},{"s":"Oper.","t":138,"v":0.1},{"s":"Oper.","t":144,"v":1.95},{"s":"Oper.","t":150,"v":0.1},{"s":"Oper.","t":156,"v":0.05},{"s":"Oper.","t":168,"v":0},{"s":"Oper.","t":174,"v":0.05},{"s":"Oper.","t":180,"v":0.25},{"s":"Oper.","t":186,"v":0.35},{"s":"Oper.","t":192,"v":0.15},{"s":"Oper.","t":198,"v":0.03},{"s":"Oper.","t":204,"v":0},{"s":"Oper.","t":354,"v":0}
]},
"layer":[
{"data":{"name":"days"},"mark":{"type":"rule","color":"#555555","strokeWidth":1},"encoding":{"x":{"field":"t","type":"quantitative","scale":{"domain":[0,354],"nice":false,"zero":false},"axis":null}}},
{"data":{"name":"d"},
"encoding":{
"x":{"field":"t","type":"quantitative","scale":{"domain":[0,354],"nice":false,"zero":false},"axis":{"values":[0,6,12,18,24,30,36,42,48,54,60,66,72,78,84,90,96,102,108,114,120,126,132,138,144,150,156,162,168,174,180,186,192,198,204,210,216,222,228,234,240,246,252,258,264,270,276,282,288,294,300,306,312,318,324,330,336,342,348,354],"grid":true,"tickSize":4,"labelPadding":2,"labelOverlap":false,"labelBound":false,"labelFlush":false,"labelExpr":"datum.value % 24 == 18 && datum.value < 350 ? ['Za 28','Zo 29','Ma 30','Di 1','Wo 2','Do 3','Vr 4','Za 5','Zo 6','Ma 7','Di 8','Wo 9','Do 10','Vr 11'][floor(datum.value/24)] : ''"}},
"y":{"field":"v","type":"quantitative","scale":{"domain":[0,22],"nice":false},"axis":{"values":[0,2,4,6,8,10,12,14,16,18,20,22],"grid":true,"tickSize":6,"labelPadding":3}},
"color":{"field":"s","type":"nominal","scale":{"domain":["Oper.","Controle","Leden","gemiddelde","mediaan (middelste waarde)"],"range":["#d23232","#3232c8","#3f9a1f","#1a1a1a","#cc00ff"]},"legend":{"title":null}},
"strokeDash":{"field":"s","type":"nominal","scale":{"domain":["Oper.","Controle","Leden","gemiddelde","mediaan (middelste waarde)"],"range":[[1,0],[1,0],[1,0],[3,3],[8,3,2,3]]},"legend":{"title":null}},
"strokeWidth":{"field":"s","type":"nominal","scale":{"type":"ordinal","domain":["Oper.","Controle","Leden","gemiddelde","mediaan (middelste waarde)"],"range":[4,4,1,3,2.5]},"legend":{"title":null}},
"opacity":{"field":"s","type":"nominal","scale":{"type":"ordinal","domain":["Oper.","Controle","Leden","gemiddelde","mediaan (middelste waarde)"],"range":[1,1,0.4,1,1]},"legend":{"title":null}},
"detail":{"field":"m"}
},
"layer":[
{"transform":[{"filter":"datum.s=='Leden'"}],"mark":{"type":"line"}},
{"transform":[{"filter":"datum.s=='mediaan (middelste waarde)'"}],"mark":{"type":"line"}},
{"transform":[{"filter":"datum.s=='gemiddelde'"}],"mark":{"type":"line"}},
{"transform":[{"filter":"datum.s=='Controle'"}],"mark":{"type":"line"}},
{"transform":[{"filter":"datum.s=='Oper.'"}],"mark":{"type":"line"}}
]}
]}
